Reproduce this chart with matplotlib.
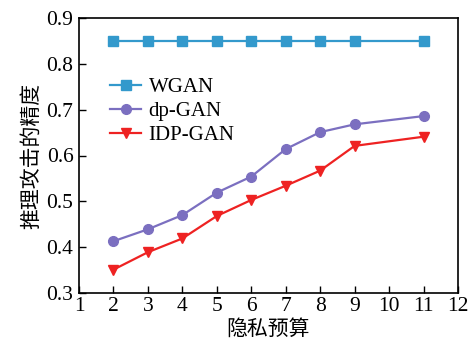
import matplotlib
matplotlib.use("Agg")
import matplotlib.pyplot as plt

x = [2, 3, 4, 5, 6, 7, 8, 9, 11]
wgan = [0.85, 0.85, 0.85, 0.85, 0.85, 0.85, 0.85, 0.85, 0.85]
dpgan = [0.413, 0.439, 0.470, 0.519, 0.554, 0.614, 0.651, 0.668, 0.686]
idpgan = [0.351, 0.389, 0.419, 0.468, 0.503, 0.534, 0.567, 0.621, 0.641]
labels = ["WGAN", "dp-GAN", "IDP-GAN"]
xticks = list(range(1, 13))
yticks = [0.3, 0.4, 0.5, 0.6, 0.7, 0.8, 0.9]

serif = ["Liberation Serif", "DejaVu Serif"]
cjk = ["Noto Sans CJK SC", "DejaVu Sans"]

fig = plt.figure(figsize=(4.72, 3.46), dpi=100)
ax = fig.add_axes([79/472, 1-293/346, (458-79)/472, (293-18)/346])

ax.plot(x, wgan, color="#3399cc", marker="s", markersize=6.5, lw=1.6, label=labels[0])
ax.plot(x, dpgan, color="#7b6fc0", marker="o", markersize=7, lw=1.6, label=labels[1])
ax.plot(x, idpgan, color="#ee2222", marker="v", markersize=7, lw=1.6, label=labels[2])

ax.set_xlim(1, 12)
ax.set_ylim(0.3, 0.9)
ax.set_xticks(xticks)
ax.set_yticks(yticks)
ax.set_xticklabels([str(v) for v in xticks], fontfamily=serif, fontsize=15.5)
ax.set_yticklabels([f"{v:.1f}" for v in yticks], fontfamily=serif, fontsize=15.5)
ax.tick_params(axis="x", direction="in", length=5, width=1, pad=3)
ax.tick_params(axis="y", direction="in", length=5, width=1, pad=4)
for s in ax.spines.values():
    s.set_linewidth(1.2)

ax.set_xlabel("隐私预算", fontfamily=cjk, fontsize=15, labelpad=1)
ax.set_ylabel("推理攻击的精度", fontfamily=cjk, fontsize=15, labelpad=3)

ax.legend(loc="upper left", bbox_to_anchor=(0.06, 0.815), frameon=False,
          prop={"family": serif, "size": 15}, handlelength=1.5,
          labelspacing=0.22, handletextpad=0.35, borderaxespad=0)

fig.savefig("out.png", dpi=100)
